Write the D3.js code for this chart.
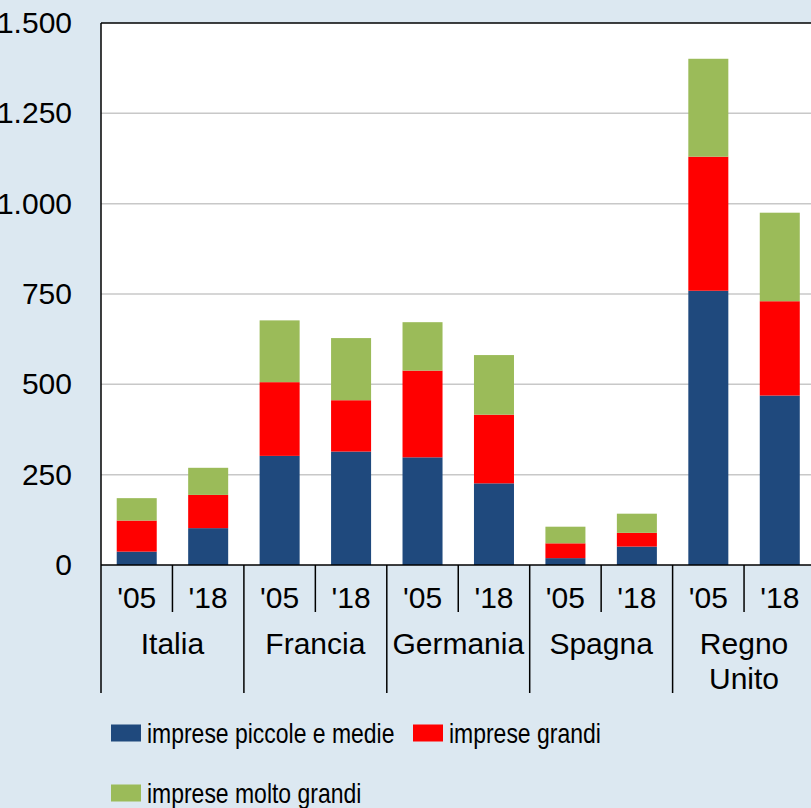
<!DOCTYPE html>
<html>
<head>
<meta charset="utf-8">
<script src="https://cdn.jsdelivr.net/npm/d3@7"></script>
<style>
  html, body { margin: 0; padding: 0; background: #dce8f1; }
  svg { display: block; }
  text { font-family: "Liberation Sans", Arial, Helvetica, sans-serif; fill: #000; }
</style>
</head>
<body>
<script>
// Imprese per classe dimensionale, 2005 e 2018
const groups = ["Italia", "Francia", "Germania", "Spagna", "Regno Unito"];
const years = ["'05", "'18"];
const piccoleMedie = [37, 102, 302, 314, 298, 226, 19, 51, 759, 469];
const grandi = [86, 92, 204, 142, 240, 190, 41, 38, 371, 261];
const moltoGrandi = [62, 75, 171, 172, 134, 165, 46, 53, 271, 245];
const yTicks = [0, 250, 500, 750, 1000, 1250, 1500];
const seriesNames = ["imprese piccole e medie", "imprese grandi", "imprese molto grandi"];
const seriesColors = ["#1f497d", "#ff0000", "#9bbb59"];

const W = 811, H = 808;
const plot = { left: 101, top: 23, right: 815.5, bottom: 565 };

const rows = [];
groups.forEach((g, gi) => years.forEach((y, yi) => {
  const i = gi * years.length + yi;
  rows.push({ key: i, group: g, year: y, pm: piccoleMedie[i], g: grandi[i], mg: moltoGrandi[i] });
}));

const svg = d3.select("body").append("svg").attr("width", W).attr("height", H);

const x = d3.scaleBand()
  .domain(rows.map(d => d.key))
  .range([plot.left, plot.right])
  .paddingInner(0.44)
  .paddingOuter(0.22);

const y = d3.scaleLinear().domain([0, 1500]).range([plot.bottom, plot.top]);

// plot background
svg.append("rect")
  .attr("x", plot.left).attr("y", plot.top)
  .attr("width", plot.right - plot.left).attr("height", plot.bottom - plot.top)
  .attr("fill", "#fff");

// horizontal gridlines
svg.append("g")
  .selectAll("line")
  .data(yTicks.filter(t => t > 0 && t < 1500))
  .join("line")
  .attr("x1", plot.left).attr("x2", plot.right)
  .attr("y1", d => y(d)).attr("y2", d => y(d))
  .attr("stroke", "#c8c8c8").attr("stroke-width", 1.5);

// stacked bars
const stack = d3.stack().keys(["pm", "g", "mg"]);
const layers = stack(rows);
svg.append("g")
  .selectAll("g")
  .data(layers)
  .join("g")
  .attr("fill", (d, i) => seriesColors[i])
  .selectAll("rect")
  .data(d => d)
  .join("rect")
  .attr("x", d => x(d.data.key))
  .attr("width", x.bandwidth())
  .attr("y", d => y(d[1]))
  .attr("height", d => y(d[0]) - y(d[1]));

// y axis with Italian thousands separator
const itFormat = d3.formatLocale({ decimal: ",", thousands: ".", grouping: [3], currency: ["€", ""] }).format(",");
const yAxis = d3.axisLeft(y).tickValues(yTicks).tickFormat(itFormat).tickSize(0).tickPadding(29);
const ga = svg.append("g").attr("transform", `translate(${plot.left},0)`).call(yAxis);
ga.select(".domain").remove();
ga.selectAll("text").attr("font-size", 30).style("font-family", "Liberation Sans, Arial, sans-serif");

// frame: left and top border, baseline
svg.append("line").attr("x1", plot.left).attr("x2", plot.left).attr("y1", plot.top).attr("y2", plot.bottom)
  .attr("stroke", "#000").attr("stroke-width", 1.5);
svg.append("line").attr("x1", plot.left).attr("x2", plot.right).attr("y1", plot.top).attr("y2", plot.top)
  .attr("stroke", "#000").attr("stroke-width", 1.5);
svg.append("line").attr("x1", plot.left).attr("x2", plot.right).attr("y1", plot.bottom).attr("y2", plot.bottom)
  .attr("stroke", "#000").attr("stroke-width", 1.5);

// category axis: year labels, group labels and separators
const step = x.step();
const catG = svg.append("g");
rows.forEach(d => {
  const cx = x(d.key) + x.bandwidth() / 2;
  catG.append("text")
    .attr("x", cx).attr("y", 597)
    .attr("text-anchor", "middle").attr("dominant-baseline", "central")
    .attr("font-size", 30)
    .text(d.year);
});
groups.forEach((g, gi) => {
  const mid = x(gi * 2 + 1) - (step - x.bandwidth()) / 2;
  catG.append("line").attr("x1", mid).attr("x2", mid).attr("y1", plot.bottom).attr("y2", 612)
    .attr("stroke", "#000").attr("stroke-width", 1.5);
  const start = x(gi * 2) - (step - x.bandwidth()) / 2;
  catG.append("line").attr("x1", start).attr("x2", start).attr("y1", plot.bottom).attr("y2", 693)
    .attr("stroke", "#000").attr("stroke-width", 1.5);
  const gx = start + step;
  const lines = g === "Regno Unito" ? ["Regno", "Unito"] : [g];
  const t = catG.append("text")
    .attr("x", gx).attr("y", 643)
    .attr("text-anchor", "middle").attr("dominant-baseline", "central")
    .attr("font-size", 30);
  lines.forEach((ln, li) => t.append("tspan").attr("x", gx).attr("dy", li === 0 ? 0 : 35).text(ln));
});

// legend (condensed lettering)
const legendPos = [[111, 733], [413, 733], [111, 793]];
const lg = svg.append("g").attr("class", "legend");
seriesNames.forEach((name, i) => {
  const [lx, ly] = legendPos[i];
  lg.append("rect").attr("x", lx).attr("y", ly - 8.5).attr("width", 30).attr("height", 17)
    .attr("fill", seriesColors[i]);
  lg.append("text")
    .attr("transform", `translate(${lx + 36},${ly}) scale(0.82,1)`)
    .attr("dominant-baseline", "central").attr("font-size", 28)
    .text(name);
});
</script>
</body>
</html>
